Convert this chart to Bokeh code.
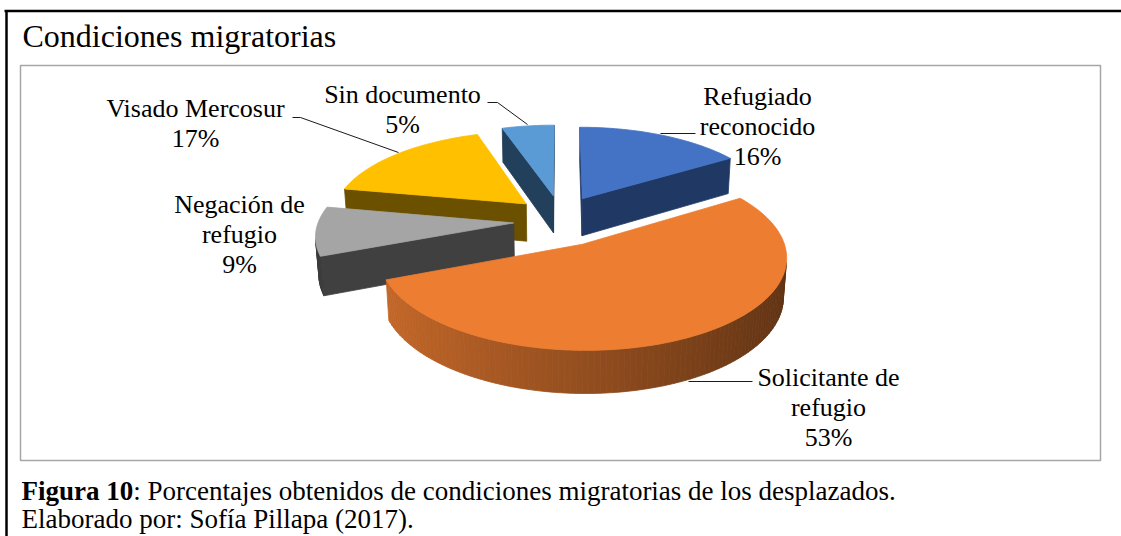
import numpy as np
from bokeh.plotting import figure
from bokeh.models import Range1d
from bokeh.core.properties import value
from bokeh.embed import file_html
from bokeh.resources import INLINE

# ---------------- data ----------------
categories = ["Refugiado reconocido", "Solicitante de refugio", "Negación de refugio",
              "Visado Mercosur", "Sin documento"]
percentages = [16, 53, 9, 17, 5]
label_lines = [["Refugiado", "reconocido"], ["Solicitante de", "refugio"],
               ["Negación de", "refugio"], ["Visado Mercosur"], ["Sin documento"]]

title_text = "Condiciones migratorias"
caption_bold = "Figura 10"
caption_rest = ": Porcentajes obtenidos de condiciones migratorias de los desplazados."
caption_line2 = "Elaborado por: Sofía Pillapa (2017)."

# ---------------- styles ----------------
top_colors = ["#4472C4", "#ED7D31", "#A5A5A5", "#FFC000", "#5B9BD5"]
cut_rgb = [(32, 56, 100), (122, 62, 20), (64, 64, 64), (107, 80, 0), (34, 63, 91)]
side_rgb = [(68, 114, 196), (237, 125, 49), (72, 72, 72), (255, 192, 0), (91, 155, 213)]
FONT = value("Liberation Serif")

# layout of labels: (center x, first baseline y) in page pixels, line step
label_pos = [(757, 96), (828, 377), (239, 204), (195, 108), (402, 94)]
LINE_STEP = 30
leaders = [[(660, 133), (695, 133)],
           [(688, 381), (752, 381)],
           None,
           [(292, 117), (300, 117), (398, 152)],
           [(487, 102), (497, 102), (527, 124)]]

# ---------------- canvas ----------------
W, H = 1121, 536
p = figure(width=W, height=H, output_backend="svg", toolbar_location=None,
           x_range=Range1d(0, W), y_range=Range1d(H, 0),
           min_border=0, x_axis_location=None, y_axis_location=None)
p.grid.visible = False
p.outline_line_color = None
p.background_fill_color = "white"
p.border_fill_color = "white"

# frame (outer black border: left and top only are inside the view)
p.segment(x0=[6, 4], y0=[H + 5, 10.5], x1=[6, W + 20], y1=[10.5, 10.5],
          line_color="black", line_width=2.5)
p.quad(left=[20], right=[1100], top=[65], bottom=[460], fill_color=None,
       line_color="#a6a6a6", line_width=1.5)

# ---------------- 3D pie projection ----------------
CX, CY = 560.0, 220.0
S = 195.0
D = 7.0
SN = 0.44
CS = np.sqrt(1 - SN ** 2)
EX, EZ = 0.24, 0.30
T = 0.22
cam = np.array([0.0, D * SN, -D * CS])


def proj(X, Y, Z):
    d = D + Z * CS - Y * SN
    return CX + S * D * X / d, CY - S * D * (CS * Y + SN * Z) / d


def depth(P):
    return D + P[2] * CS - P[1] * SN


def shade(rgb, f):
    return "#%02x%02x%02x" % tuple(int(max(0, min(255, round(c * f)))) for c in rgb)


def face(pts3, color, key):
    xs, ys = [], []
    for (X, Y, Z) in pts3:
        sx, sy = proj(X, Y, Z)
        xs.append(sx)
        ys.append(sy)
    return (key, xs, ys, color)


vals = np.array(percentages, dtype=float)
fr = vals / vals.sum()
ends = np.cumsum(fr) * 360.0
starts = ends - fr * 360.0

slices = []
for i in range(len(vals)):
    a0, a1 = starts[i], ends[i]
    b = np.radians((a0 + a1) / 2)
    ox, oz = EX * np.sin(b), EZ * np.cos(b)
    nseg = max(4, int((a1 - a0) / 1.5))
    angs = np.radians(np.linspace(a0, a1, nseg + 1))
    rx = ox + np.sin(angs)
    rz = oz + np.cos(angs)
    faces = []
    # outer curved side
    for k in range(nseg):
        am = (angs[k] + angs[k + 1]) / 2
        nrm = np.array([np.sin(am), 0.0, np.cos(am)])
        P = np.array([ox + np.sin(am), -T / 2, oz + np.cos(am)])
        if np.dot(nrm, cam - P) > 0:
            f = 0.62 - 0.22 * np.sin(am)
            pts = [(rx[k], 0, rz[k]), (rx[k + 1], 0, rz[k + 1]),
                   (rx[k + 1], -T, rz[k + 1]), (rx[k], -T, rz[k])]
            faces.append(face(pts, shade(side_rgb[i], f), depth(P)))
    # radial cut faces
    ra0, ra1 = np.radians(a0), np.radians(a1)
    for a, nrm in [(ra0, np.array([-np.cos(ra0), 0.0, np.sin(ra0)])),
                   (ra1, np.array([np.cos(ra1), 0.0, -np.sin(ra1)]))]:
        P = np.array([ox + 0.5 * np.sin(a), -T / 2, oz + 0.5 * np.cos(a)])
        if np.dot(nrm, cam - P) > 0:
            pts = [(ox, 0, oz), (ox + np.sin(a), 0, oz + np.cos(a)),
                   (ox + np.sin(a), -T, oz + np.cos(a)), (ox, -T, oz)]
            faces.append(face(pts, shade(cut_rgb[i], 1.0), depth(P)))
    faces.sort(key=lambda t: -t[0])
    top = [(ox, 0, oz)] + [(rx[k], 0, rz[k]) for k in range(nseg + 1)]
    faces.append(face(top, top_colors[i], 0))
    ckey = depth(np.array([ox + 0.4 * np.sin(b), 0, oz + 0.4 * np.cos(b)]))
    slices.append((ckey, faces))

slices.sort(key=lambda t: -t[0])
all_xs, all_ys, all_c = [], [], []
for _, faces in slices:
    for (_, xs, ys, c) in faces:
        all_xs.append(xs)
        all_ys.append(ys)
        all_c.append(c)

p.patches(xs=all_xs, ys=all_ys, fill_color=all_c, line_color=all_c, line_width=0.8)

# ---------------- labels ----------------
for i in range(len(categories)):
    lx, ly = label_pos[i]
    lines = label_lines[i] + ["%d%%" % percentages[i]]
    ys = [ly + k * LINE_STEP for k in range(len(lines))]
    p.text(x=[lx] * len(lines), y=ys, text=lines, text_font=FONT,
           text_font_size=value("26px"), text_align="center",
           text_baseline="alphabetic", text_color="black")
    if leaders[i] is not None:
        p.line([q[0] for q in leaders[i]], [q[1] for q in leaders[i]],
               line_color="#1a1a1a", line_width=1)

# ---------------- title & caption ----------------
p.text(x=[22], y=[35], text=[title_text], text_font=FONT, text_font_size=value("32px"),
       text_align="left", text_baseline="alphabetic", text_color="black")

CAP = 27
p.text(x=[21], y=[490], text=[caption_bold], text_font=FONT, text_font_size=value("%dpx" % CAP),
       text_font_style="bold", text_align="left", text_baseline="alphabetic", text_color="black")
p.text(x=[21 + 4.139 * CAP], y=[490], text=[caption_rest], text_font=FONT,
       text_font_size=value("%dpx" % CAP), text_align="left", text_baseline="alphabetic",
       text_color="black")
p.text(x=[21], y=[518], text=[caption_line2], text_font=FONT, text_font_size=value("%dpx" % CAP),
       text_align="left", text_baseline="alphabetic", text_color="black")

open("out.html", "w").write(file_html(p, INLINE))
